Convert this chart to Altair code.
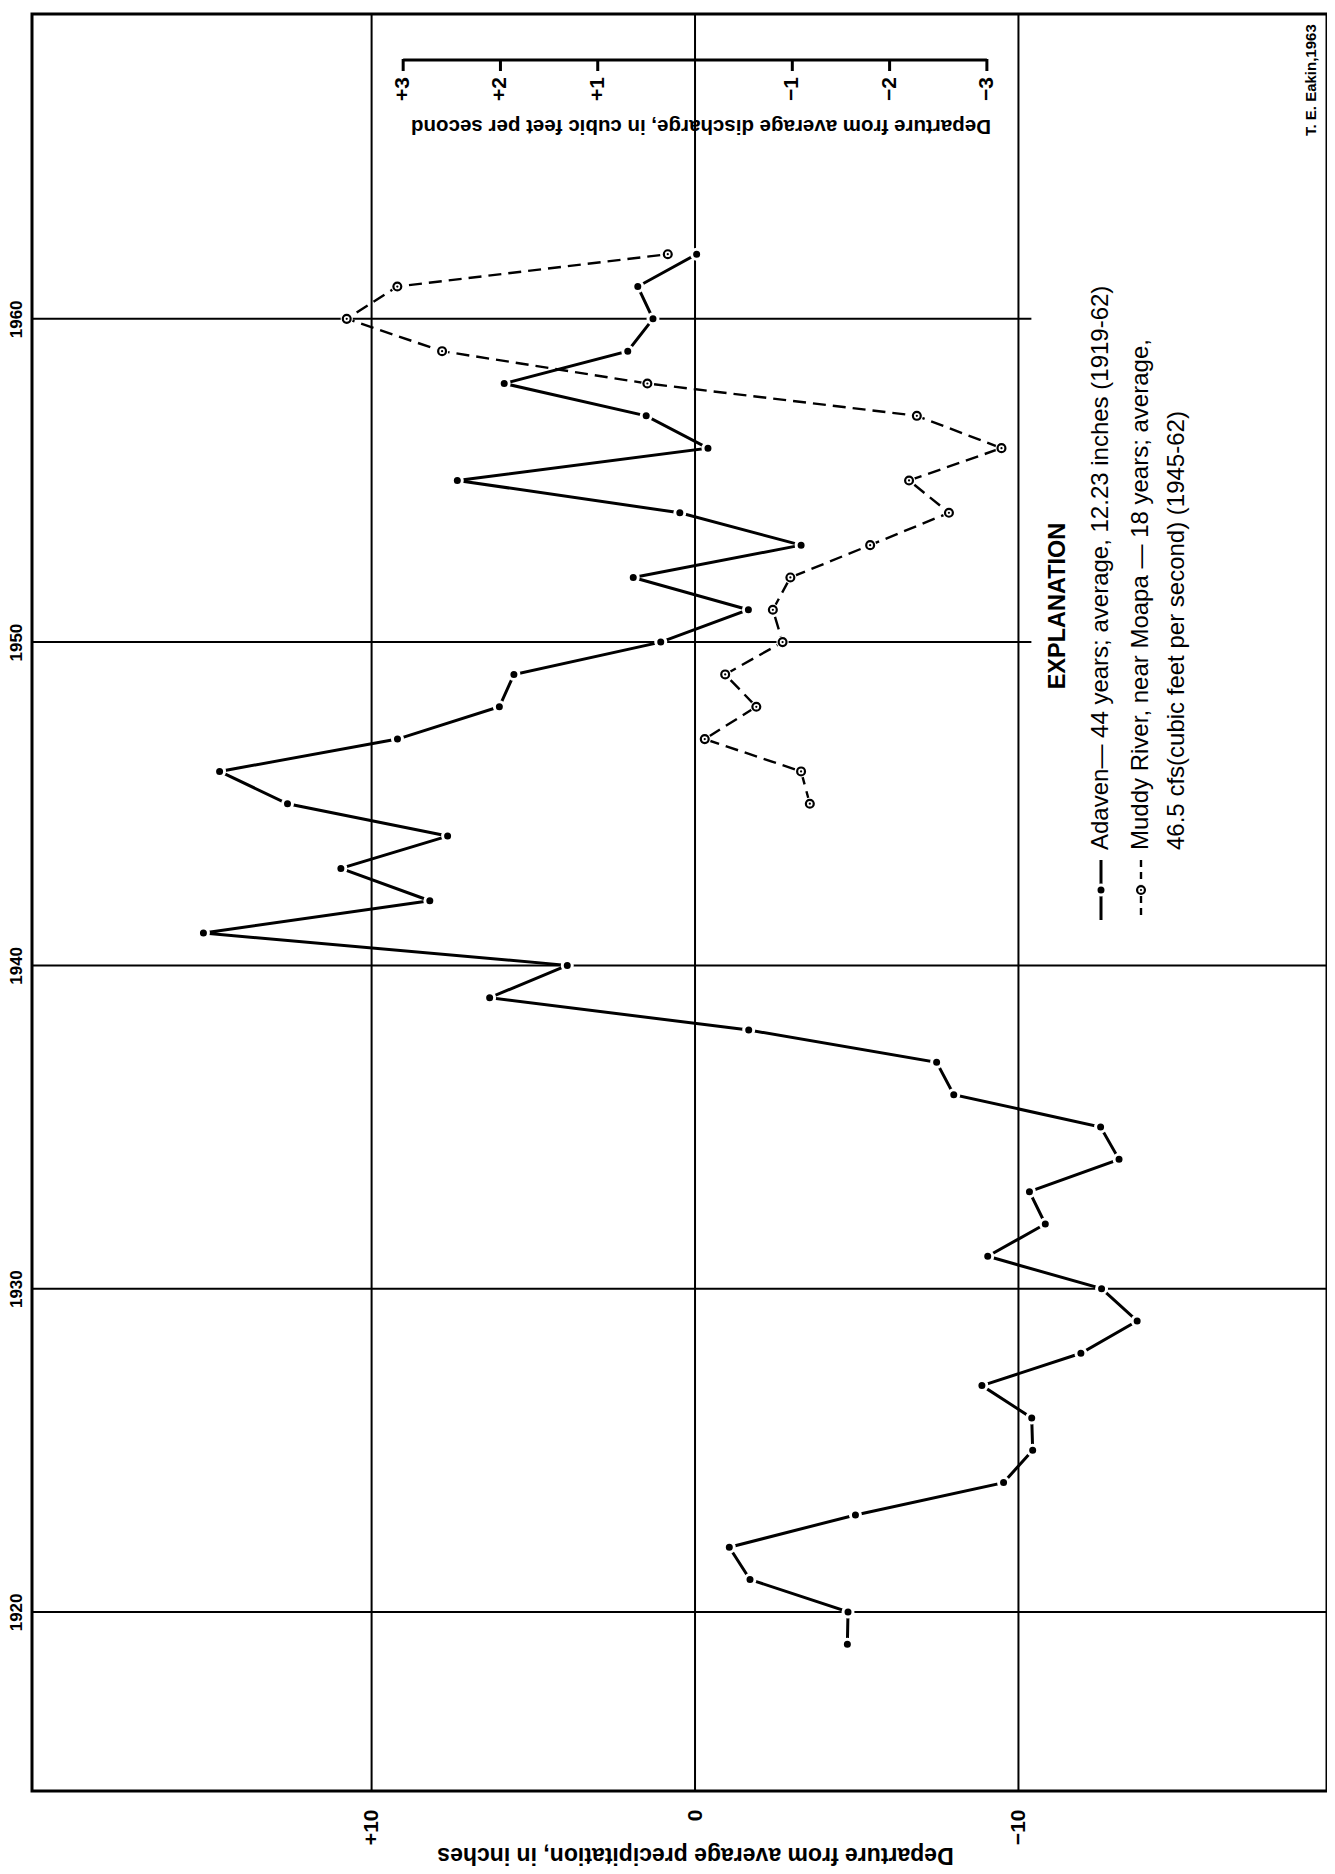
import altair as alt
import pandas as pd

# ---------------- data ----------------
precip_years = list(range(1919, 1963))
precip_departure = [-4.71, -4.73, -1.70, -1.06, -4.96, -9.54, -10.44, -10.41, -8.87, -11.93,
                    -13.67, -12.57, -9.05, -10.83, -10.34, -13.11, -12.54, -8.00, -7.47, -1.66,
                    6.35, 3.95, 15.2, 8.2, 10.95, 7.65, 12.6, 14.7, 9.2, 6.05,
                    5.6, 1.06, -1.65, 1.91, -3.28, 0.47, 7.35, -0.40, 1.51, 5.9,
                    2.08, 1.30, 1.77, -0.05]

discharge_years = list(range(1945, 1963))
discharge_departure = [-1.18, -1.09, -0.10, -0.63, -0.31, -0.90, -0.80, -0.98, -1.80, -2.61,
                       -2.20, -3.15, -2.28, 0.49, 2.60, 3.58, 3.06, 0.28]

year_ticks = [1920, 1930, 1940, 1950, 1960]
year_grid_end = [-19.54, -19.54, -19.54, -10.4, -10.4]   # 1950 & 1960 lines stop at explanation box
precip_ticks = [10, 0, -10]
precip_tick_labels = ["+10", "0", "\u221210"]
discharge_ticks = [3, 2, 1, -1, -2, -3]
discharge_tick_labels = ["+3", "+2", "+1", "\u22121", "\u22122", "\u22123"]

precip_title = "Departure from average precipitation, in inches"
discharge_title = "Departure from average discharge, in cubic feet per second"
legend_heading = "EXPLANATION"
legend_lines = ["Adaven\u2014 44 years; average, 12.23 inches (1919-62)",
                "Muddy River, near Moapa \u2014 18 years; average,",
                "46.5 cfs(cubic feet per second) (1945-62)"]
credit = "T. E. Eakin,1963"

# ---------------- layout ----------------
W, H = 1295, 1777
FONT = "Liberation Sans, Arial, Helvetica, sans-serif"

P_DOMAIN = [-19.54, 20.5]
Y_DOMAIN = [1914.46, 1969.43]
CFS_TO_INCH = 3.008          # one cfs on the discharge scale spans 3.008 precipitation inches

pscale = alt.Scale(domain=P_DOMAIN, reverse=True, nice=False, zero=False)
yscale = alt.Scale(domain=Y_DOMAIN, nice=False, zero=False)

precip_df = pd.DataFrame({"year": precip_years, "p": precip_departure})
discharge_df = pd.DataFrame({"year": discharge_years, "q": discharge_departure})
vgrid_df = pd.DataFrame({"p": precip_ticks})
hgrid_df = pd.DataFrame({"year": year_ticks, "x0": [P_DOMAIN[1]] * len(year_ticks), "x1": year_grid_end})
qtick_df = pd.DataFrame({"q": discharge_ticks, "label": discharge_tick_labels})
qaxis_df = pd.DataFrame({"q0": [max(discharge_ticks)], "q1": [min(discharge_ticks)]})
one = pd.DataFrame({"k": [0]})

label_expr = " : ".join(
    f"datum.value == {v} ? '{l}'" for v, l in zip(precip_ticks, precip_tick_labels)
) + " : datum.label"

x_axis = alt.Axis(values=precip_ticks, labelExpr=label_expr, labelAngle=270, labelAlign="right",
                  labelBaseline="middle", labelPadding=18, tickSize=0, domain=False, grid=False,
                  labelFont=FONT, labelFontSize=21, labelFontWeight="bold", labelColor="black",
                  title=precip_title, titleAngle=180, titleX=663, titleY=63, titleAlign="center",
                  titleBaseline="middle", titleFont=FONT, titleFontSize=23, titleFontWeight="bold",
                  titleColor="black")
y_axis = alt.Axis(values=year_ticks, format="d", labelAngle=270, labelAlign="center",
                  labelBaseline="bottom", labelPadding=7, tickSize=0, domain=False, grid=False,
                  labelFont=FONT, labelFontSize=17, labelFontWeight="bold", labelColor="black",
                  title=None)


def X(field):
    return alt.X(f"{field}:Q", scale=pscale, axis=x_axis)


def Y(field="year"):
    return alt.Y(f"{field}:Q", scale=yscale, axis=y_axis)


# ---------------- precipitation ----------------
vgrid = alt.Chart(vgrid_df).mark_rule(color="black", strokeWidth=2).encode(x=X("p"))
hgrid = alt.Chart(hgrid_df).mark_rule(color="black", strokeWidth=2).encode(
    x=X("x0"), x2="x1:Q", y=Y())
pline = alt.Chart(precip_df).mark_line(color="black", strokeWidth=3).encode(
    x=X("p"), y=Y(), order="year:Q")
pdots = alt.Chart(precip_df).mark_circle(size=100, color="black", opacity=1, stroke="white",
                                         strokeWidth=3).encode(x=X("p"), y=Y())

# ---------------- discharge (converted through its own scale factor) ----------------
qbase = alt.Chart(discharge_df).transform_calculate(qx=f"datum.q * {CFS_TO_INCH}")
qline = qbase.mark_line(color="black", strokeWidth=2.4, strokeDash=[13, 7]).encode(
    x=X("qx"), y=Y(), order="year:Q")
qgap = qbase.mark_circle(size=150, color="white", opacity=1).encode(x=X("qx"), y=Y())
qring = qbase.mark_point(shape="circle", size=62, filled=True, fill="white",
                         stroke="black", strokeWidth=2.2, opacity=1).encode(x=X("qx"), y=Y())
qcore = qbase.mark_circle(size=5, color="black", opacity=1).encode(x=X("qx"), y=Y())

qaxis = alt.Chart(qaxis_df).transform_calculate(
    a=f"datum.q0 * {CFS_TO_INCH}", b=f"datum.q1 * {CFS_TO_INCH}"
).mark_rule(color="black", strokeWidth=3).encode(x=X("a"), x2="b:Q", y=alt.value(46))
qtbase = alt.Chart(qtick_df).transform_calculate(qx=f"datum.q * {CFS_TO_INCH}")
qticks = qtbase.mark_rule(color="black", strokeWidth=3).encode(
    x=X("qx"), y=alt.value(45), y2=alt.value(57))
qlabels = qtbase.mark_text(angle=270, align="right", baseline="middle", font=FONT,
                           fontSize=21, fontWeight="bold", color="black").encode(
    x=X("qx"), y=alt.value(63), text="label:N")


# ---------------- annotations ----------------
def note(text, x, y, angle, align, size, weight="normal"):
    return alt.Chart(one).mark_text(angle=angle, align=align, baseline="middle", font=FONT,
                                    fontSize=size, fontWeight=weight, color="black").encode(
        x=alt.value(x), y=alt.value(y), text=alt.value(text))


qtitle = note(discharge_title, 669, 112, 180, "center", 20.5, "bold")
heading = note(legend_heading, 1026, 592, 270, "center", 23.5, "bold")
leg_x = [1069, 1109, 1145]
leg_texts = [note(t, x, 836, 270, "left", 24) for t, x in zip(legend_lines, leg_x)]
credit_txt = note(credit, 1279, 122, 270, "left", 15, "bold")

sym_solid = alt.Chart(one).mark_rule(color="black", strokeWidth=3).encode(
    x=alt.value(leg_x[0]), y=alt.value(846), y2=alt.value(906))
sym_solid_dot = alt.Chart(one).mark_circle(size=100, color="black", opacity=1, stroke="white",
                                           strokeWidth=3).encode(
    x=alt.value(leg_x[0]), y=alt.value(876))
sym_dash = alt.Chart(one).mark_rule(color="black", strokeWidth=2.4, strokeDash=[7, 5]).encode(
    x=alt.value(leg_x[1]), y=alt.value(846), y2=alt.value(906))
sym_dash_gap = alt.Chart(one).mark_circle(size=150, color="white", opacity=1).encode(
    x=alt.value(leg_x[1]), y=alt.value(876))
sym_dash_ring = alt.Chart(one).mark_point(shape="circle", size=62, filled=True, fill="white",
                                          stroke="black", strokeWidth=2.2, opacity=1).encode(
    x=alt.value(leg_x[1]), y=alt.value(876))
sym_dash_core = alt.Chart(one).mark_circle(size=5, color="black", opacity=1).encode(
    x=alt.value(leg_x[1]), y=alt.value(876))

chart = alt.layer(
    vgrid, hgrid, pline, pdots,
    qline, qgap, qring, qcore, qaxis, qticks, qlabels,
    qtitle, heading, *leg_texts, credit_txt,
    sym_solid, sym_solid_dot, sym_dash, sym_dash_gap, sym_dash_ring, sym_dash_core,
).properties(
    width=W, height=H,
    autosize=alt.AutoSizeParams(type="none"),
    padding={"left": 24, "top": 6, "right": 0, "bottom": 82},
    background="white",
).configure_view(stroke="black", strokeWidth=3)

chart.save("out.html", embed_options={"renderer": "svg", "actions": False})
